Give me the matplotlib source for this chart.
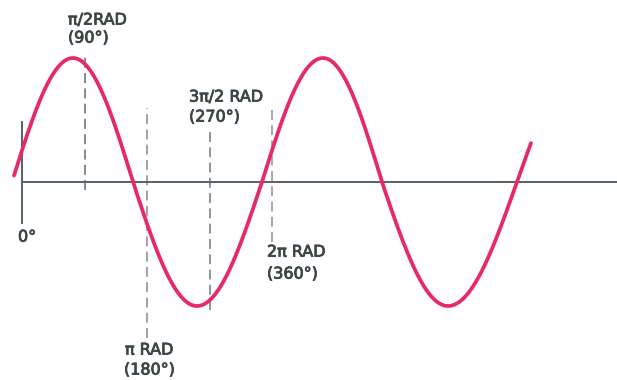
import numpy as np
import matplotlib
matplotlib.use("Agg")
import matplotlib.pyplot as plt
import matplotlib.patheffects as pe

# ---- data ----
guide_angles = [90, 180, 270, 360]                 # degrees
guide_top = [1.04, 0.60, 0.42, 0.61]              # amplitude units
guide_bottom = [-0.065, -1.26, -1.03, -0.48]
rad_labels = ["π/2RAD", "π RAD", "3π/2 RAD", "2π RAD"]
deg_labels = ["(90°)", "(180°)", "(270°)", "(360°)"]
origin_label = "0°"

# wave: key points (angle position in degrees -> phase of the sine)
wave_key_deg = [-14.4, 73.3, 159.6, 251.6, 345.0, 432.7, 517.5, 612.4, 711.6]
wave_key_phase = [0, 90, 180, 270, 360, 450, 540, 630, 720]
wave_start_deg, wave_end_deg = -11.5, 731.7
axis_end_deg = 855.0
origin_top, origin_bottom = 0.48, -0.33

# ---- drawing ----
fig = plt.figure(figsize=(6.17, 3.80), dpi=100)
ax = fig.add_axes([0, 0, 1, 1])
ax.set_xlim(-31.63, 855.4)
ax.set_ylim(-198 / 124, 182 / 124)
ax.axis("off")

wave_col = "#e8286e"
axis_col = "#55645d"
text_col = "#3b4742"

# horizontal axis and origin line
ax.plot([0, axis_end_deg], [0, 0], color=axis_col, lw=1.4, zorder=2)
ax.plot([0, 0], [origin_bottom, origin_top], color=axis_col, lw=1.4, zorder=2)

# dashed guides
guide_cols = ["#5f6d68", "#8f8590", "#6f7a76", "#9a8a96"]
for a, t, b, c in zip(guide_angles, guide_top, guide_bottom, guide_cols):
    ln, = ax.plot([a, a], [b, t], color=c, lw=1.1, zorder=1)
    ln.set_dashes((6.5, 3.5))

# sine wave
kx = np.array(wave_key_deg, dtype=float)
kp = np.array(wave_key_phase, dtype=float)
x = np.linspace(wave_start_deg, wave_end_deg, 1500)
ph = np.interp(x, kx, kp)
slope_end = (kp[-1] - kp[-2]) / (kx[-1] - kx[-2])
mask = x > kx[-1]
ph[mask] = kp[-1] + (x[mask] - kx[-1]) * slope_end
y = np.sin(np.deg2rad(ph))
ax.plot(x, y, color=wave_col, lw=2.7, solid_capstyle="round", zorder=3)

# labels
fs = 11.5
kw = dict(color=text_col, fontsize=fs, ha="left", va="center",
          family="DejaVu Sans",
          path_effects=[pe.withStroke(linewidth=0.6, foreground=text_col)])
rad_pos = [(66.1, 1.306), (148.1, -1.355), (240.1, 0.685), (352.2, -0.565)]
deg_pos = [(66.1, 1.161), (146.6, -1.516), (240.1, 0.524), (352.2, -0.742)]
for lab, (px, py) in zip(rad_labels, rad_pos):
    ax.text(px, py, lab, **kw)
for lab, (px, py) in zip(deg_labels, deg_pos):
    ax.text(px, py, lab, **kw)
ax.text(-5.75, -0.444, origin_label, **kw)

fig.savefig("out.png", dpi=100)
